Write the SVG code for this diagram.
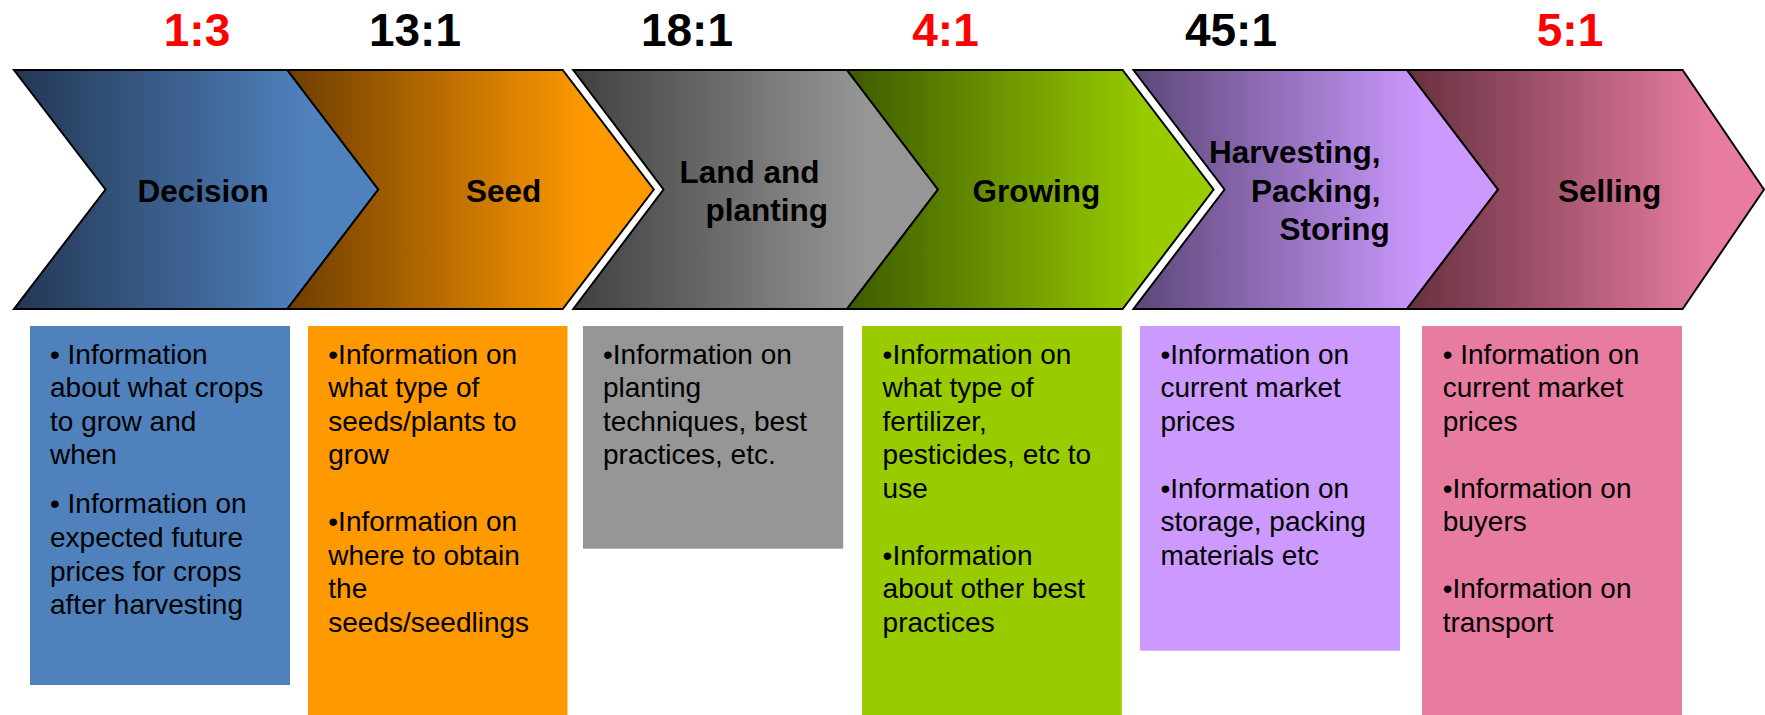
<svg xmlns="http://www.w3.org/2000/svg" width="1765" height="715" viewBox="0 0 1765 715">
<defs>
<linearGradient id="gBlue" x1="0" y1="0" x2="1" y2="0"><stop offset="0" stop-color="#233754"/><stop offset="0.8" stop-color="#4F81BD"/></linearGradient>
<linearGradient id="gOrange" x1="0" y1="0" x2="1" y2="0"><stop offset="0" stop-color="#6E3D00"/><stop offset="0.82" stop-color="#FF9900"/></linearGradient>
<linearGradient id="gGray" x1="0" y1="0" x2="1" y2="0"><stop offset="0" stop-color="#404040"/><stop offset="0.8" stop-color="#969696"/></linearGradient>
<linearGradient id="gGreen" x1="0" y1="0" x2="1" y2="0"><stop offset="0" stop-color="#3D5A00"/><stop offset="0.82" stop-color="#99CC00"/></linearGradient>
<linearGradient id="gPurple" x1="0" y1="0" x2="1" y2="0"><stop offset="0" stop-color="#5C4778"/><stop offset="0.8" stop-color="#CC99FF"/></linearGradient>
<linearGradient id="gPink" x1="0" y1="0" x2="1" y2="0"><stop offset="0" stop-color="#67303F"/><stop offset="0.85" stop-color="#E87CA0"/></linearGradient>
</defs>
<style>
.chev{stroke:#000;stroke-width:2;stroke-linejoin:miter}
.ratio{font-family:"Liberation Sans",Arial,sans-serif;font-weight:bold;font-size:46px;text-anchor:middle}
.red{fill:#FF0000}
.blk{fill:#000}
.lbl{font-family:"Liberation Sans",Arial,sans-serif;font-weight:bold;font-size:31.5px;fill:#000}
.body{font-family:"Liberation Sans",Arial,sans-serif;font-size:28px;fill:#000}
</style>
<rect width="1765" height="715" fill="#fff"/>

<g id="ratios">
<text class="ratio red" x="197" y="46">1:3</text>
<text class="ratio blk" x="415" y="46">13:1</text>
<text class="ratio blk" x="687" y="46">18:1</text>
<text class="ratio red" x="945.5" y="46">4:1</text>
<text class="ratio blk" x="1231" y="46">45:1</text>
<text class="ratio red" x="1570" y="46">5:1</text>
</g>

<g id="connectors"></g>

<g id="decision">
<polygon class="chev" fill="url(#gBlue)" points="14,70 287.3,70 378.3,189.5 287.3,309 14,309 105.5,189.5"/>
<text class="lbl" x="137.5" y="201.5">Decision</text>
</g>
<g id="seed">
<polygon class="chev" fill="url(#gOrange)" points="287.3,70 562.7,70 653.8,189.5 562.7,309 287.3,309 378.3,189.5"/>
<text class="lbl" x="466" y="201.5">Seed</text>
</g>
<g id="land">
<polygon class="chev" fill="url(#gGray)" points="573.3,70 847,70 938,189.5 847,309 573.3,309 663.5,189.5"/>
<text class="lbl" x="679.5" y="182.5">Land and</text>
<text class="lbl" x="705.5" y="220.5">planting</text>
</g>
<g id="growing">
<polygon class="chev" fill="url(#gGreen)" points="847,70 1122.6,70 1213.6,189.5 1122.6,309 847,309 938,189.5"/>
<text class="lbl" x="972.5" y="201.5">Growing</text>
</g>
<g id="harvesting">
<polygon class="chev" fill="url(#gPurple)" points="1133.5,70 1407,70 1498,189.5 1407,309 1133.5,309 1224.5,189.5"/>
<text class="lbl" x="1209" y="163.3">Harvesting,</text>
<text class="lbl" x="1251" y="201.5">Packing,</text>
<text class="lbl" x="1279.5" y="240">Storing</text>
</g>
<g id="selling">
<polygon class="chev" fill="url(#gPink)" points="1407,70 1682.6,70 1764,189.5 1682.6,309 1407,309 1498,189.5"/>
<text class="lbl" x="1558" y="201.5">Selling</text>
</g>

<g id="box-decision">
<rect x="30" y="326" width="260" height="359" fill="#4F81BD"/>
<text class="body" x="50" y="363.5">• Information</text>
<text class="body" x="50" y="397">about what crops</text>
<text class="body" x="50" y="430.5">to grow and</text>
<text class="body" x="50" y="464">when</text>
<text class="body" x="50" y="513.3">• Information on</text>
<text class="body" x="50" y="547">expected future</text>
<text class="body" x="50" y="580.7">prices for crops</text>
<text class="body" x="50" y="614.3">after harvesting</text>
</g>
<g id="box-seed">
<rect x="308" y="326" width="259.5" height="389" fill="#FF9900"/>
<text class="body" x="328.3" y="363.5">•Information on</text>
<text class="body" x="328.3" y="397">what type of</text>
<text class="body" x="328.3" y="430.5">seeds/plants to</text>
<text class="body" x="328.3" y="464">grow</text>
<text class="body" x="328.3" y="531">•Information on</text>
<text class="body" x="328.3" y="564.5">where to obtain</text>
<text class="body" x="328.3" y="598">the</text>
<text class="body" x="328.3" y="631.5">seeds/seedlings</text>
</g>
<g id="box-land">
<rect x="583" y="326" width="260.2" height="222.7" fill="#969696"/>
<text class="body" x="603" y="363.5">•Information on</text>
<text class="body" x="603" y="397">planting</text>
<text class="body" x="603" y="430.5">techniques, best</text>
<text class="body" x="603" y="464">practices, etc.</text>
</g>
<g id="box-growing">
<rect x="862" y="326" width="259.8" height="389" fill="#99CC00"/>
<text class="body" x="882.6" y="363.5">•Information on</text>
<text class="body" x="882.6" y="397">what type of</text>
<text class="body" x="882.6" y="430.5">fertilizer,</text>
<text class="body" x="882.6" y="464">pesticides, etc to</text>
<text class="body" x="882.6" y="497.5">use</text>
<text class="body" x="882.6" y="564.5">•Information</text>
<text class="body" x="882.6" y="598">about other best</text>
<text class="body" x="882.6" y="631.5">practices</text>
</g>
<g id="box-harvesting">
<rect x="1140" y="326" width="260" height="324.7" fill="#CC99FF"/>
<text class="body" x="1160.4" y="363.5">•Information on</text>
<text class="body" x="1160.4" y="397">current market</text>
<text class="body" x="1160.4" y="430.5">prices</text>
<text class="body" x="1160.4" y="497.5">•Information on</text>
<text class="body" x="1160.4" y="531">storage, packing</text>
<text class="body" x="1160.4" y="564.5">materials etc</text>
</g>
<g id="box-selling">
<rect x="1422" y="326" width="260" height="389" fill="#E87CA0"/>
<text class="body" x="1442.7" y="363.5">• Information on</text>
<text class="body" x="1442.7" y="397">current market</text>
<text class="body" x="1442.7" y="430.5">prices</text>
<text class="body" x="1442.7" y="497.5">•Information on</text>
<text class="body" x="1442.7" y="531">buyers</text>
<text class="body" x="1442.7" y="598">•Information on</text>
<text class="body" x="1442.7" y="631.5">transport</text>
</g>
</svg>
